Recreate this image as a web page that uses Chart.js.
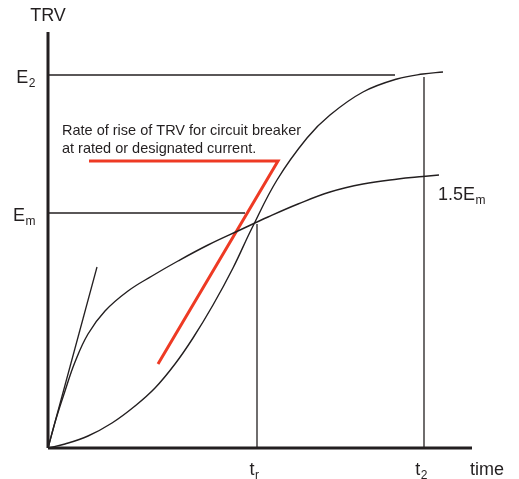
<!DOCTYPE html>
<html>
<head>
<meta charset="utf-8">
<script src="https://cdn.jsdelivr.net/npm/chart.js@4/dist/chart.umd.min.js"></script>
<style>
  html, body { margin: 0; padding: 0; background: #fff; overflow: hidden; }
</style>
</head>
<body>
<canvas id="trv" width="519" height="479"></canvas>
<script>
// time / voltage units (origin at the axes corner)
const X_MAX = 424
const Y_MAX = 416

// curve that rises fast first (exponential-like, ends at 1.5Em)
const expCurve = [
  [0, 0], [8, 29], [17, 57], [27, 86], [40, 114], [57, 137], [80, 157], [104, 172],
  [130, 187], [160, 203], [192, 218], [220, 231], [250, 244], [282, 256],
  [315, 264], [350, 269], [375, 271.5], [391, 273]
]

// S shaped (1 - cos) curve that ends at E2
const sCurve = [
  [0, 0], [17, 4], [40, 12], [64, 25], [87, 42], [107, 60], [127, 84], [145, 110],
  [165, 143], [185, 180], [204, 220], [229, 268], [259, 310], [282, 333],
  [315, 356], [349, 369], [375, 374], [395, 376]
]

// initial slope of the fast curve
const tangentLine = [[0, 0], [49, 181]]

// red rate-of-rise marker
const rateLine = [[41, 287], [230, 287], [110, 84]]

// reference levels and times
const levelNames = ['E', 'E']
const levelSubs = ['2', 'm']
const levelValues = [373, 235]
const levelEnds = [347, 197]

const timeNames = ['t', 't']
const timeSubs = ['r', '2']
const timeValues = [209, 376]
const timeTops = [224, 371]

const noteLines = ['Rate of rise of TRV for circuit breaker', 'at rated or designated current.']
const curveLabel = ['1.5E', 'm']

const INK = '#231f20'
const RED = '#ee3a24'

function pts(arr){
  return arr.map(function (p){ return {x: p[0], y: p[1]} })
}

function lineSet(data, color, width, smooth){
  return {
    data: pts(data),
    showLine: true,
    borderColor: color,
    backgroundColor: color,
    borderWidth: width,
    pointRadius: 0,
    fill: false,
    clip: false,
    tension: smooth ? 0.4 : 0,
    borderCapStyle: 'butt'
  }
}

var sets = []
// axes
sets.push(lineSet([[0, 0], [0, Y_MAX]], INK, 3, false))
sets.push(lineSet([[0, 0], [X_MAX, 0]], INK, 3, false))
// level lines
for (var i = 0; i < levelValues.length; i++) {
  sets.push(lineSet([[0, levelValues[i]], [levelEnds[i], levelValues[i]]], INK, 1.3, false))
}
// time lines
for (var j = 0; j < timeValues.length; j++) {
  sets.push(lineSet([[timeValues[j], 0], [timeValues[j], timeTops[j]]], INK, 1.3, false))
}
sets.push(lineSet(tangentLine, INK, 1.3, false))
sets.push(lineSet(expCurve, INK, 1.4, true))
sets.push(lineSet(sCurve, INK, 1.4, true))
sets.push(lineSet(rateLine, RED, 3, false))

// main text plus a subscript
function subText(ctx, x, y, main, sub, align, size){
  var big = size + 'px "Liberation Sans", Arial, sans-serif'
  var small = Math.round(size * 0.68) + 'px "Liberation Sans", Arial, sans-serif'
  ctx.font = big
  var mw = ctx.measureText(main).width
  ctx.font = small
  var sw = ctx.measureText(sub).width
  var start = x
  if (align === 'right') start = x - mw - sw
  if (align === 'center') start = x - (mw + sw) / 2
  ctx.textAlign = 'left'
  ctx.textBaseline = 'alphabetic'
  ctx.font = big
  ctx.fillText(main, start, y)
  ctx.font = small
  ctx.fillText(sub, start + mw + 0.5, y + 4)
}

const labelPlugin = {
  id: 'labels',
  afterDraw: function (chart){
    var ctx = chart.ctx
    var xs = chart.scales.x
    var ys = chart.scales.y
    ctx.save()
    ctx.fillStyle = INK

    // axis titles
    ctx.font = '18px "Liberation Sans", Arial, sans-serif'
    ctx.textAlign = 'center'
    ctx.fillText('TRV', xs.getPixelForValue(0), ys.getPixelForValue(Y_MAX) - 11)
    ctx.textAlign = 'left'
    ctx.fillText('time', xs.getPixelForValue(X_MAX) - 2, ys.getPixelForValue(0) + 27)

    for (var i = 0; i < levelValues.length; i++) {
      subText(ctx, xs.getPixelForValue(0) - 13, ys.getPixelForValue(levelValues[i]) + 8,
        levelNames[i], levelSubs[i], 'right', 18)
    }
    for (var j = 0; j < timeValues.length; j++) {
      subText(ctx, xs.getPixelForValue(timeValues[j]) - 3, ys.getPixelForValue(0) + 27,
        timeNames[j], timeSubs[j], 'center', 18)
    }

    var last = expCurve[expCurve.length - 1]
    subText(ctx, xs.getPixelForValue(last[0]) - 1, ys.getPixelForValue(last[1]) + 25,
      curveLabel[0], curveLabel[1], 'left', 18)

    ctx.font = '14.5px "Liberation Sans", Arial, sans-serif'
    ctx.textAlign = 'left'
    for (var k = 0; k < noteLines.length; k++) {
      ctx.fillText(noteLines[k], xs.getPixelForValue(14), ys.getPixelForValue(313) + k * 18)
    }
    ctx.restore()
  }
}

new Chart(document.getElementById('trv'), {
  type: 'scatter',
  data: {datasets: sets},
  options: {
    responsive: false,
    animation: false,
    events: [],
    layout: {padding: {left: 48, right: 47, top: 32, bottom: 31}},
    plugins: {legend: {display: false}, tooltip: {enabled: false}},
    scales: {
      x: {type: 'linear', min: 0, max: X_MAX, display: false},
      y: {type: 'linear', min: 0, max: Y_MAX, display: false}
    }
  },
  plugins: [labelPlugin]
})
</script>
</body>
</html>
